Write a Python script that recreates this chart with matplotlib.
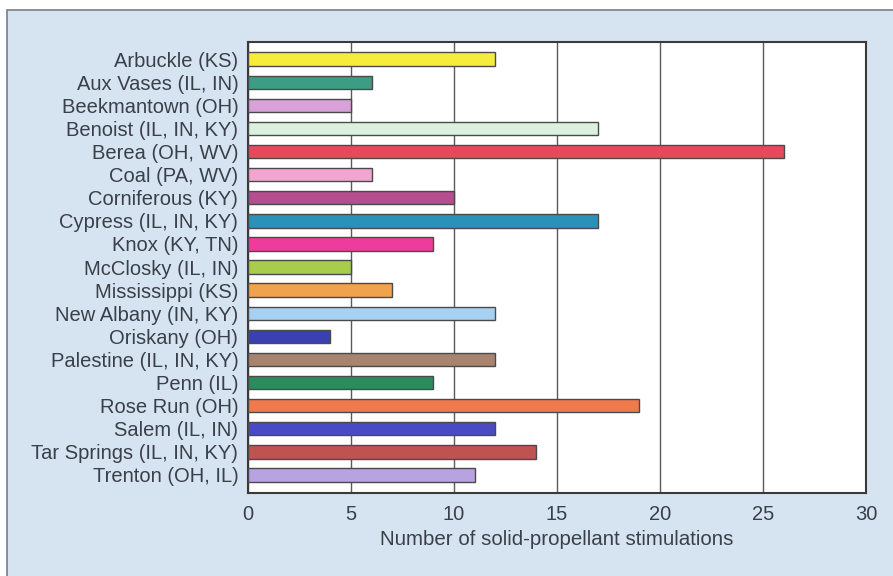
import matplotlib
matplotlib.use("Agg")
import matplotlib.pyplot as plt
from matplotlib.patches import Rectangle

formations = ["Arbuckle (KS)", "Aux Vases (IL, IN)", "Beekmantown (OH)", "Benoist (IL, IN, KY)",
              "Berea (OH, WV)", "Coal (PA, WV)", "Corniferous (KY)", "Cypress (IL, IN, KY)",
              "Knox (KY, TN)", "McClosky (IL, IN)", "Mississippi (KS)", "New Albany (IN, KY)",
              "Oriskany (OH)", "Palestine (IL, IN, KY)", "Penn (IL)", "Rose Run (OH)",
              "Salem (IL, IN)", "Tar Springs (IL, IN, KY)", "Trenton (OH, IL)"]
stimulations = [12, 6, 5, 17, 26, 6, 10, 17, 9, 5, 7, 12, 4, 12, 9, 19, 12, 14, 11]
bar_colors = ["#f6ec3c", "#3c9c84", "#d8a2d8", "#dcf0e0", "#e8485c", "#f0a6d0",
              "#b44e8e", "#2a92b8", "#ee3c9c", "#a8cc4c", "#f0a24e", "#a8d0f0",
              "#3a40b4", "#a88470", "#2a8c5c", "#f07a4c", "#4a4ac4", "#c05252", "#b8a2e0"]
xticks = [0, 5, 10, 15, 20, 25, 30]
xlabel = "Number of solid-propellant stimulations"

plt.rcParams['font.family'] = ['Liberation Sans', 'DejaVu Sans']
fig = plt.figure(figsize=(8.93, 5.76), dpi=100)
fig.patch.set_facecolor("white")
panel = Rectangle((7/893, -0.01), 1.0, 1.01 - 10/576, transform=fig.transFigure,
                  facecolor="#d6e4f1", edgecolor="#7a7f86", linewidth=1.2, zorder=-10)
fig.patches.append(panel)

ax = fig.add_axes([248/893, 1 - 493/576, (866-248)/893, (493-42)/576])
ax.set_zorder(5)
ax.set_facecolor("white")
ypos = list(range(len(formations)))
ax.barh(ypos, stimulations, height=0.58, color=bar_colors, edgecolor="#4a4a4a",
        linewidth=1.0, zorder=3)
ax.set_xlim(0, 30)
ax.set_ylim(len(formations) - 1 + 0.78, -0.74)
ax.set_xticks(xticks)
ax.set_xticklabels([str(t) for t in xticks])
ax.set_yticks(ypos)
ax.set_yticklabels(formations)
ax.tick_params(axis='both', length=0, labelsize=14.5, colors="#3a4049")
ax.tick_params(axis='y', pad=7)
ax.tick_params(axis='x', pad=9)
ax.xaxis.grid(True, color="#5a5a5a", linewidth=1.0, zorder=1)
ax.set_axisbelow(True)
for s in ax.spines.values():
    s.set_color("#3a3a3a")
    s.set_linewidth(1.5)
ax.set_xlabel(xlabel, fontsize=14.8, color="#3a4049", labelpad=4)

fig.savefig("out.png", dpi=100, facecolor=fig.get_facecolor())
